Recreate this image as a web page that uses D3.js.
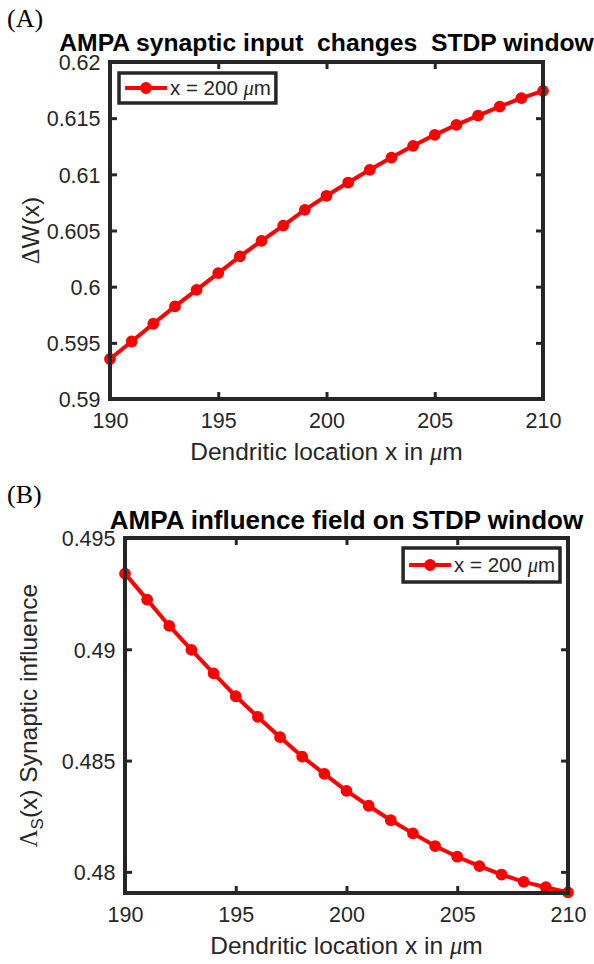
<!DOCTYPE html>
<html><head><meta charset="utf-8">
<script src="https://cdn.jsdelivr.net/npm/d3@7"></script>
<style>
body{margin:0;background:#fff}
svg{display:block}
text{font-family:"Liberation Sans",Arial,Helvetica,sans-serif;fill:#262626}
</style>
</head><body>
<svg id="c" width="594" height="964"></svg>
<script>
// ---- data ----
const locations = [190,191,192,193,194,195,196,197,198,199,200,201,202,203,204,205,206,207,208,209,210];
const deltaW = [0.59356,0.59512,0.5967,0.59824,0.59972,0.60121,0.60269,0.60408,0.60544,0.60684,0.60809,
                0.60927,0.6104,0.61149,0.61254,0.61351,0.6144,0.61523,0.61603,0.61678,0.61743];
const influence = [0.4934,0.49223,0.49105,0.48997,0.48892,0.48789,0.48696,0.48605,0.48518,0.4844,0.48364,
                   0.48297,0.48232,0.48173,0.48116,0.48068,0.48026,0.47988,0.47955,0.47931,0.47908];
const xTicks = [190,195,200,205,210];
const xTickLabels = ["190","195","200","205","210"];
const yTicksA = [0.59,0.595,0.6,0.605,0.61,0.615,0.62];
const yTickLabelsA = ["0.59","0.595","0.6","0.605","0.61","0.615","0.62"];
const yTicksB = [0.48,0.485,0.49,0.495];
const yTickLabelsB = ["0.48","0.485","0.49","0.495"];
const xDomain = [190,210];
const yDomainA = [0.59,0.62];
const yDomainB = [0.47905,0.495];
const legendLabel = "x = 200 ";
const titleA = "AMPA synaptic input  changes  STDP window";
const titleB = "AMPA influence field on STDP window";
const xLabel = "Dendritic location x in ";

const svg = d3.select("#c");
const AX = "#262626", RED = "#ff0000";

function panel(cfg){
  const {L,R,T,B,values,yDomain,yTicks,yLabels,title,titleSize,titleGap,tag,tagY,legendPos,ylab} = cfg;
  const x = d3.scaleLinear().domain(xDomain).range([L,R]);
  const y = d3.scaleLinear().domain(yDomain).range([B,T]);
  const g = svg.append("g");

  // panel tag
  svg.append("text").attr("x",7).attr("y",tagY)
    .style("font-family","'Liberation Serif','Times New Roman',serif")
    .style("font-size","26px").style("fill","#000").text(tag);

  // title
  g.append("text").attr("x",(L+R)/2).attr("y",T-titleGap).attr("text-anchor","middle")
    .style("font-size",titleSize+"px").style("font-weight","bold").style("fill","#000")
    .style("white-space","pre").attr("xml:space","preserve").text(title);

  // data
  const line = d3.line().x((d,i)=>x(locations[i])).y(d=>y(d));
  g.append("path").datum(values).attr("d",line).attr("fill","none")
    .attr("stroke",RED).attr("stroke-width",4).attr("stroke-linejoin","round");
  g.selectAll("circle.pt").data(values).join("circle").attr("class","pt")
    .attr("cx",(d,i)=>x(locations[i])).attr("cy",d=>y(d)).attr("r",5)
    .attr("fill",RED).attr("stroke",RED).attr("stroke-width",1.8);

  // axes
  const fmtX = d=>xTickLabels[xTicks.indexOf(d)];
  const fmtY = d=>yLabels[yTicks.indexOf(d)];
  const styleAxis = sel=>{
    sel.select(".domain").remove();
    sel.selectAll(".tick line").attr("stroke",AX).attr("stroke-width",3);
    sel.selectAll(".tick text").style("font-size","21.5px").attr("fill",AX)
      .style("font-family","'Liberation Sans',Arial,sans-serif");
  };
  g.append("g").attr("transform",`translate(0,${B})`)
    .call(d3.axisBottom(x).tickValues(xTicks).tickFormat(fmtX).tickSizeInner(-7).tickSizeOuter(0).tickPadding(13.5))
    .call(styleAxis);
  g.append("g").attr("transform",`translate(0,${T})`)
    .call(d3.axisTop(x).tickValues(xTicks).tickFormat("").tickSizeInner(-7).tickSizeOuter(0))
    .call(styleAxis);
  g.append("g").attr("transform",`translate(${L},0)`)
    .call(d3.axisLeft(y).tickValues(yTicks).tickFormat(fmtY).tickSizeInner(-7).tickSizeOuter(0).tickPadding(9.5))
    .call(styleAxis)
    .call(s=>s.selectAll(".tick text").attr("dy","0.36em"));
  g.append("g").attr("transform",`translate(${R},0)`)
    .call(d3.axisRight(y).tickValues(yTicks).tickFormat("").tickSizeInner(-7).tickSizeOuter(0))
    .call(styleAxis);
  g.append("rect").attr("x",L).attr("y",T).attr("width",R-L).attr("height",B-T)
    .attr("fill","none").attr("stroke",AX).attr("stroke-width",4);

  // x label
  const xl = g.append("text").attr("x",(L+R)/2).attr("y",B+61).attr("text-anchor","middle")
    .style("font-size","24.5px").style("white-space","pre").attr("xml:space","preserve");
  xl.append("tspan").text(xLabel);
  xl.append("tspan").style("font-family","'Liberation Serif','Times New Roman',serif").style("font-style","italic").text("\u03bc");
  xl.append("tspan").text("m");

  // y label
  const yl = g.append("text").attr("transform",`translate(${ylab.x},${(T+B)/2}) rotate(-90)`)
    .attr("text-anchor","middle").style("font-size","24.5px")
    .style("white-space","pre").attr("xml:space","preserve");
  ylab.build(yl);

  // legend
  const lg = g.append("g");
  const lt = lg.append("text").style("font-size","20.5px").style("white-space","pre").attr("xml:space","preserve");
  lt.append("tspan").text(legendLabel);
  lt.append("tspan").style("font-family","'Liberation Serif','Times New Roman',serif").style("font-style","italic").text("\u03bc");
  lt.append("tspan").text("m");
  const tw = lt.node().getComputedTextLength();
  const padL=6, lineLen=42, gap=3, padR=5, h=cfg.legendH;
  const w = padL+lineLen+gap+tw+padR;
  const bx = legendPos.anchor==="left" ? legendPos.x : legendPos.x - w;
  const by = legendPos.y;
  lg.insert("rect","text").attr("x",bx).attr("y",by).attr("width",w).attr("height",h)
    .attr("fill","#fff").attr("stroke",AX).attr("stroke-width",3.5);
  const cy = by+h/2;
  lg.append("line").attr("x1",bx+padL).attr("x2",bx+padL+lineLen).attr("y1",cy).attr("y2",cy)
    .attr("stroke",RED).attr("stroke-width",4);
  lg.append("circle").attr("cx",bx+padL+lineLen/2).attr("cy",cy).attr("r",5)
    .attr("fill",RED).attr("stroke",RED).attr("stroke-width",1.8);
  lt.attr("x",bx+padL+lineLen+gap).attr("y",cy).attr("dy","0.36em");
}

panel({L:110,R:543,T:62,B:399,values:deltaW,yDomain:yDomainA,yTicks:yTicksA,yLabels:yTickLabelsA,
  title:titleA,titleSize:24.7,titleGap:11,tag:"(A)",tagY:27,legendH:30,legendPos:{anchor:"left",x:119,y:73},
  ylab:{x:39,build:t=>{
    t.append("tspan").style("font-family","'Liberation Serif','Times New Roman',serif").text("\u0394");
    t.append("tspan").text("W(x)");
  }}});

panel({L:125,R:568,T:538,B:893,values:influence,yDomain:yDomainB,yTicks:yTicksB,yLabels:yTickLabelsB,
  title:titleB,titleSize:26,titleGap:9,tag:"(B)",tagY:503,legendH:34,legendPos:{anchor:"right",x:560,y:548},
  ylab:{x:36.5,build:t=>{
    t.append("tspan").style("font-family","'Liberation Serif','Times New Roman',serif").text("\u039b");
    t.append("tspan").attr("dy",6).style("font-size","17px").text("S");
    t.append("tspan").attr("dy",-6).text("(x) Synaptic influence");
  }}});
</script>
</body></html>
